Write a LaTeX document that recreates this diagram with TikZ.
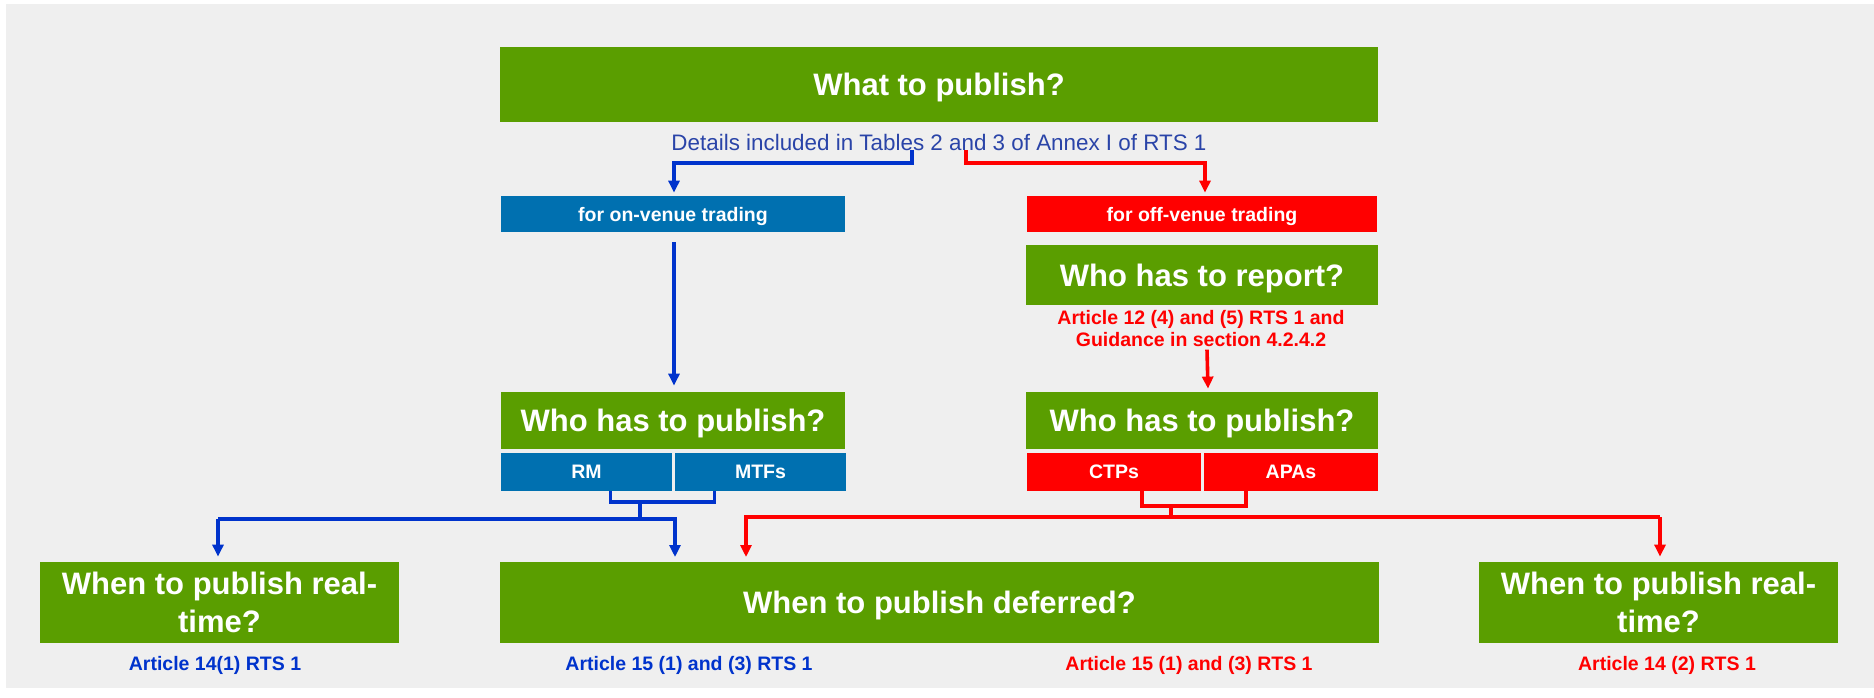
\documentclass[tikz,border=0pt]{standalone}
\usepackage{fontspec}
\setmainfont{Liberation Sans}
\usetikzlibrary{arrows.meta}
\definecolor{leafgreen}{HTML}{5A9E00}
\definecolor{venueblue}{HTML}{0070B0}
\definecolor{offred}{HTML}{FF0000}
\definecolor{linkblue}{HTML}{0033CC}
\definecolor{noteblue}{HTML}{2A44A8}
\definecolor{pagegray}{HTML}{EFEFEF}

\begin{document}
\begin{tikzpicture}[
  x = 0.5pt, y = -0.5pt,
  greenbox/.style = {fill = leafgreen, text = white, inner sep = 0pt, align = center,
                     font = \bfseries\fontsize{15.5}{19}\selectfont},
  flatbox/.style = {greenbox, text depth = 0pt},
  bluebox/.style = {fill = venueblue, text = white, inner sep = 0pt, text depth = 0pt,
                    font = \bfseries\fontsize{9.75}{11}\selectfont},
  redbox/.style = {bluebox, fill = offred},
  bluenote/.style = {text = linkblue, inner sep = 0pt, align = center,
                     font = \bfseries\fontsize{9.75}{11}\selectfont},
  rednote/.style = {bluenote, text = offred},
  blueline/.style = {draw = linkblue, line width = 1.8pt},
  redline/.style = {draw = offred, line width = 1.8pt},
  bluelink/.style = {blueline, -{Triangle[width = 5.5pt, length = 6pt]}},
  redlink/.style = {redline, -{Triangle[width = 5.5pt, length = 6pt]}},
  ]
  \useasboundingbox (0,0) rectangle (1874,697);
  \fill[white] (0,0) rectangle (1874,697);
  \fill[pagegray] (6,4) rectangle (1874,688);

  \node[flatbox, minimum width = 439pt, minimum height = 37.5pt] (what) at (939,84.5) {What to publish?};
  \node[text = noteblue, inner sep = 0pt, font = \fontsize{11.2}{13}\selectfont] (details) at (939,142)
    {Details included in Tables 2 and 3 of Annex I of RTS 1};

  \node[bluebox, minimum width = 172pt, minimum height = 18pt] (onvenue) at (673,214) {for on-venue trading};
  \node[redbox, minimum width = 175pt, minimum height = 18pt] (offvenue) at (1202,214) {for off-venue trading};

  \node[flatbox, minimum width = 176pt, minimum height = 30pt] (report) at (1202,275) {Who has to report?};
  \node[rednote, font = \bfseries\fontsize{9.75}{11}\selectfont] (reportnote) at (1201,329)
    {Article 12 (4) and (5) RTS 1 and\\Guidance in section 4.2.4.2};

  \node[flatbox, minimum width = 172pt, minimum height = 28.5pt] (publishL) at (673,420.5) {Who has to publish?};
  \node[flatbox, minimum width = 176pt, minimum height = 28.5pt] (publishR) at (1202,420.5) {Who has to publish?};

  \node[bluebox, minimum width = 85.5pt, minimum height = 19pt] (rm) at (586.5,472) {RM};
  \node[bluebox, minimum width = 85.5pt, minimum height = 19pt] (mtfs) at (760.5,472) {MTFs};
  \node[redbox, minimum width = 87pt, minimum height = 19pt] (ctps) at (1114,472) {CTPs};
  \node[redbox, minimum width = 87pt, minimum height = 19pt] (apas) at (1291,472) {APAs};

  \node[greenbox, minimum width = 179.5pt, minimum height = 40.5pt] (realL) at (219.5,602.5) {When to publish real-\\time?};
  \node[flatbox, minimum width = 439.5pt, minimum height = 40.5pt] (deferred) at (939.5,602.5) {When to publish deferred?};
  \node[greenbox, minimum width = 179.5pt, minimum height = 40.5pt] (realR) at (1658.5,602.5) {When to publish real-\\time?};

  \node[bluenote] (noteA) at (215,665) {Article 14(1) RTS 1};
  \node[bluenote] (noteB) at (689,665) {Article 15 (1) and (3) RTS 1};
  \node[rednote] (noteC) at (1189,665) {Article 15 (1) and (3) RTS 1};
  \node[rednote] (noteD) at (1667,665) {Article 14 (2) RTS 1};

  \coordinate (splitB) at (912,150);
  \coordinate (splitR) at (966,150);
  \coordinate (joinB) at (640,502);
  \coordinate (joinR) at (1171,506);

  \draw[bluelink] (splitB) -- ++(0,13) -| ([xshift = 0.5pt, yshift = 1.5pt]onvenue.north);
  \draw[redlink] (splitR) -- ++(0,13) -| ([xshift = 1.5pt, yshift = 1.5pt]offvenue.north);
  \draw[bluelink] ([xshift = 0.5pt, yshift = -5pt]onvenue.south) -- ([xshift = 0.5pt, yshift = 3pt]publishL.north);
  \draw[redlink] ([xshift = 3pt, yshift = -1pt]reportnote.south) -- ([xshift = 3pt, yshift = 1.5pt]publishR.north);

  \draw[blueline] ([xshift = 12pt]rm.south) |- (joinB) -| ([xshift = -23pt]mtfs.south);
  \draw[blueline] (joinB) -- ++(0,17);
  \draw[bluelink] (218,519) -- ([xshift = -0.75pt, yshift = 2.5pt]realL.north);
  \draw[bluelink] (218,519) -- (675,519) -- (675,557);

  \draw[redline] ([xshift = 14pt]ctps.south) |- (joinR) -| ([xshift = -22.5pt]apas.south);
  \draw[redline] (joinR) -- ++(0,11);
  \draw[redlink] (1660,517) -- ([xshift = 0.75pt, yshift = 2.5pt]realR.north);
  \draw[redlink] (1660,517) -- (746,517) -- (746,557);
\end{tikzpicture}
\end{document}
